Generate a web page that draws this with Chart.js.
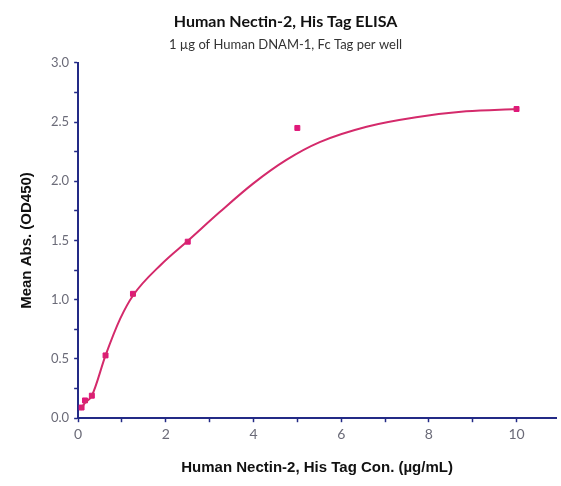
<!DOCTYPE html>
<html>
<head>
<meta charset="utf-8">
<script src="https://cdn.jsdelivr.net/npm/chart.js@4.4.1/dist/chart.umd.min.js"></script>
<style>
  html, body { margin: 0; padding: 0; background: #fff; }
  #wrap { width: 561px; height: 486px; }
</style>
</head>
<body>
<div id="wrap"><canvas id="elisa"></canvas></div>
<script>
// measured points (concentration ug/mL, OD450)
const concValues = [0.078, 0.156, 0.3125, 0.625, 1.25, 2.5, 5, 10];
const odValues = [0.09, 0.15, 0.19, 0.53, 1.05, 1.49, 2.45, 2.61];

// fitted curve
const curveX = [0.05, 0.156, 0.3125, 0.625, 0.96, 1.26, 1.9, 2.51, 3.23, 3.99, 4.75, 5.51, 6.58, 7.71, 8.85, 10];
const curveY = [0.07, 0.13, 0.19, 0.53, 0.84, 1.04, 1.3, 1.5, 1.74, 1.98, 2.18, 2.33, 2.46, 2.54, 2.59, 2.61];

const xTickLabels = ["0", "2", "4", "6", "8", "10"];
const yTickLabels = ["0.0", "0.5", "1.0", "1.5", "2.0", "2.5", "3.0"];

const AXIS = "#232a86";
const TICK_TXT = "#6b6b78";
const PINK = "#e0187a";
const LINE = "#d42a6b";

const toXY = (xs, ys) => xs.map((x, i) => ({ x, y: ys[i] }));

new Chart(document.getElementById("elisa"), {
  type: "scatter",
  data: {
    datasets: [
      {
        label: "fit",
        type: "line",
        data: toXY(curveX, curveY),
        borderColor: LINE,
        borderWidth: 2,
        pointRadius: 0,
        cubicInterpolationMode: "monotone",
        fill: false,
      },
      {
        label: "data",
        data: toXY(concValues, odValues),
        pointStyle: "rect",
        pointRadius: 3.5,
        backgroundColor: PINK,
        borderColor: PINK,
      },
    ],
  },
  options: {
    responsive: true,
    maintainAspectRatio: false,
    animation: false,
    layout: { padding: { left: 14, right: 4, top: 0, bottom: 5 } },
    plugins: {
      legend: { display: false },
      tooltip: { enabled: false },
      title: {
        display: true,
        text: "Human Nectin-2, His Tag ELISA",
        color: "#111",
        font: { family: "Lato", size: 16, weight: "bold" },
        padding: { top: 12, bottom: 6 },
      },
      subtitle: {
        display: true,
        text: "1 \u00b5g of Human DNAM-1, Fc Tag per well",
        color: "#333",
        font: { family: "Lato", size: 13 },
        padding: { bottom: 10 },
      },
    },
    scales: {
      x: {
        type: "linear",
        min: 0,
        max: 10.9,
        border: { color: AXIS, width: 2 },
        grid: { drawOnChartArea: false, color: AXIS, tickLength: 4, tickWidth: 1.5 },
        ticks: {
          stepSize: 1,
          includeBounds: false,
          color: TICK_TXT,
          font: { family: "Lato", size: 14 },
          padding: 4,
          callback: (v) => (v % 2 === 0 ? xTickLabels[v / 2] : ""),
        },
        title: {
          display: true,
          text: "Human Nectin-2, His Tag Con. (\u00b5g/mL)",
          color: "#111",
          font: { family: "Liberation Sans", size: 15, weight: "bold" },
          padding: { top: 12 },
        },
      },
      y: {
        min: 0,
        max: 3,
        border: { color: AXIS, width: 2 },
        grid: { drawOnChartArea: false, color: AXIS, tickLength: 4, tickWidth: 1.5 },
        ticks: {
          stepSize: 0.25,
          color: TICK_TXT,
          font: { family: "Lato", size: 13 },
          padding: 5,
          callback: (v) => {
            const k = Math.round(v * 4);
            return k % 2 === 0 ? yTickLabels[k / 2] : "";
          },
        },
        title: {
          display: true,
          text: "Mean Abs. (OD450)",
          color: "#111",
          font: { family: "Liberation Sans", size: 15, weight: "bold" },
          padding: { bottom: 10 },
        },
      },
    },
  },
});
</script>
</body>
</html>
